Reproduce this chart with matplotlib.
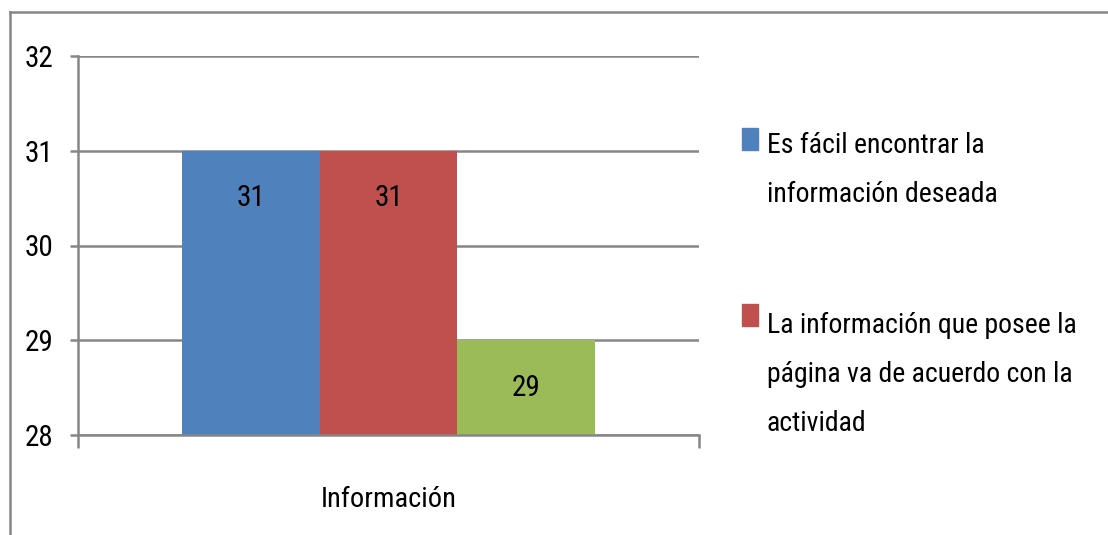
import matplotlib.pyplot as plt
from matplotlib.lines import Line2D
from matplotlib.patches import Rectangle

plt.rcParams['font.family'] = ['Roboto Condensed', 'Lato', 'DejaVu Sans']

# data
category = ['Información']
series_names = ['Es fácil encontrar la\ninformación deseada',
                'La información que posee la\npágina va de acuerdo con la\nactividad',
                'Tercera serie']
series_values = [31, 31, 29]
series_colors = ['#4F81BD', '#C0504D', '#9BBB59']

grey = '#868686'

fig = plt.figure(figsize=(11.08, 5.35), dpi=100)
ax = fig.add_axes([78 / 1108, 1 - 435 / 535, (699 - 78) / 1108, (435 - 56) / 535])

width = 0.222
offsets = [-width, 0, width]
for name, val, col, off in zip(series_names, series_values, series_colors, offsets):
    ax.bar(off, val - 28, bottom=28, width=width, color=col, label=name, zorder=3)
    ax.text(off, val - 0.5, str(val), ha='center', va='center', fontsize=21, zorder=4)

ax.set_xlim(-0.5, 0.5)
ax.set_ylim(28, 32)
ax.set_yticks([28, 29, 30, 31, 32])
ax.tick_params(axis='y', labelsize=21, length=6, width=1.8, color=grey, pad=12)
ax.set_xticks([0])
ax.set_xticklabels(category)
ax.tick_params(axis='x', which='major', length=0, labelsize=20.5, pad=37)
ax.set_xticks([-0.5, 0.5], minor=True)
ax.tick_params(axis='x', which='minor', length=9, width=1.8, color=grey)

ax.grid(axis='y', color=grey, linewidth=1.8, zorder=0)
ax.set_axisbelow(True)
for side in ['top', 'right']:
    ax.spines[side].set_visible(False)
for side in ['left', 'bottom']:
    ax.spines[side].set_color(grey)
    ax.spines[side].set_linewidth(1.8)
    ax.spines[side].set_zorder(5)

# legend drawn by hand (only the first two entries fit in the frame)
first_baselines = [152, 328]
last_baselines = [202, 431]
for name, col, b1, b2 in zip(series_names[:2], series_colors[:2], first_baselines, last_baselines):
    fig.patches.append(Rectangle((742 / 1108, 1 - (b1 - 2) / 535), 16 / 1108, 22 / 535,
                                 transform=fig.transFigure, color=col))
    fig.text(767 / 1108, 1 - b2 / 535, name, ha='left', va='baseline', fontsize=20,
             linespacing=2.05)

# outer chart frame
fig.add_artist(Line2D([10 / 1108, 1107 / 1108], [1 - 12 / 535, 1 - 12 / 535],
                      transform=fig.transFigure, color=grey, linewidth=1.8))
fig.add_artist(Line2D([10 / 1108, 10 / 1108], [1 - 12 / 535, 0],
                      transform=fig.transFigure, color=grey, linewidth=1.8))

fig.savefig('out.png', dpi=100)
